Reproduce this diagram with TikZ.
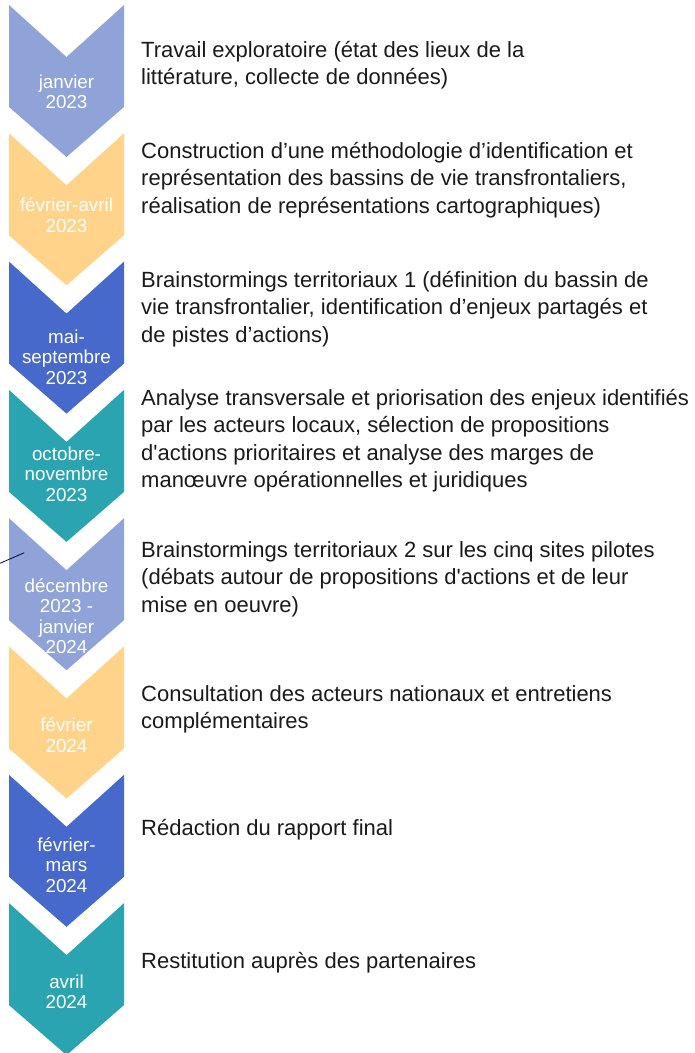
\documentclass[tikz,border=0pt]{standalone}
\usepackage{fontspec}
\setmainfont{Liberation Sans}
\definecolor{cA}{HTML}{8FA3D8}
\definecolor{cB}{HTML}{FFD38A}
\definecolor{cC}{HTML}{4769CB}
\definecolor{cD}{HTML}{2AA4B1}
\definecolor{txt}{HTML}{1A1A1A}
\tikzset{
  datelbl/.style={text=white, align=center, inner sep=0pt, font=\fontsize{18.8}{20.5}\selectfont},
  steptxt/.style={text=txt, align=left, inner sep=0pt, anchor=north west, font=\fontsize{22}{27.5}\selectfont},
}
\begin{document}
\begin{tikzpicture}[x=1pt,y=-1pt]
\useasboundingbox (0,0) rectangle (694,1053);
\foreach \i/\c in {0/cA,1/cB,2/cC,3/cD,4/cA,5/cB,6/cC,7/cD}{
  \pgfmathsetmacro\t{5+128.3*\i}
  \fill[\c] (9,\t) -- (66.5,{\t+52}) -- (124,\t) -- (124,{\t+102}) -- (66.5,{\t+152}) -- (9,{\t+102}) -- cycle;
}
% date labels
\node[datelbl] (d1) at (66.5,92) {janvier\\2023};
\node[datelbl] (d2) at (66.5,215) {février-avril\\2023};
\node[datelbl] (d3) at (66.5,357) {mai-\\septembre\\2023};
\node[datelbl] (d4) at (66.5,474) {octobre-\\novembre\\2023};
\node[datelbl] (d5) at (66.5,616) {décembre\\2023 -\\janvier\\2024};
\node[datelbl] (d6) at (66.5,735) {février\\2024};
\node[datelbl] (d7) at (66.5,865) {février-\\mars\\2024};
\node[datelbl] (d8) at (66.5,992) {avril\\2024};
% step texts
\node[steptxt] (s1) at (141,{57-19.25}) {\strut Travail exploratoire (état des lieux de la\\\strut littérature, collecte de données)};
\node[steptxt] (s2) at (141,{158-19.25}) {\strut Construction d’une méthodologie d’identification et\\\strut représentation des bassins de vie transfrontaliers,\\\strut réalisation de représentations cartographiques)};
\node[steptxt] (s3) at (141,{287-19.25}) {\strut Brainstormings territoriaux 1 (définition du bassin de\\\strut vie transfrontalier, identification d’enjeux partagés et\\\strut de pistes d’actions)};
\node[steptxt] (s4) at (141,{405-19.25}) {\strut Analyse transversale et priorisation des enjeux identifiés\\\strut par les acteurs locaux, sélection de propositions\\\strut d\textquotesingle actions prioritaires et analyse des marges de\\\strut manœuvre opérationnelles et juridiques};
\node[steptxt] (s5) at (141,{557-19.25}) {\strut Brainstormings territoriaux 2 sur les cinq sites pilotes\\\strut (débats autour de propositions d\textquotesingle actions et de leur\\\strut mise en oeuvre)};
\node[steptxt] (s6) at (141,{701-19.25}) {\strut Consultation des acteurs nationaux et entretiens\\\strut complémentaires};
\node[steptxt] (s7) at (141,{835-19.25}) {\strut Rédaction du rapport final};
\node[steptxt] (s8) at (141,{968-19.25}) {\strut Restitution auprès des partenaires};
% stray line
\coordinate (la) at (0,563.3);
\coordinate (lb) at (24.3,552.7);
\draw[color=black!70!blue, line width=0.8pt] (la) -- (lb);
\end{tikzpicture}
\end{document}
